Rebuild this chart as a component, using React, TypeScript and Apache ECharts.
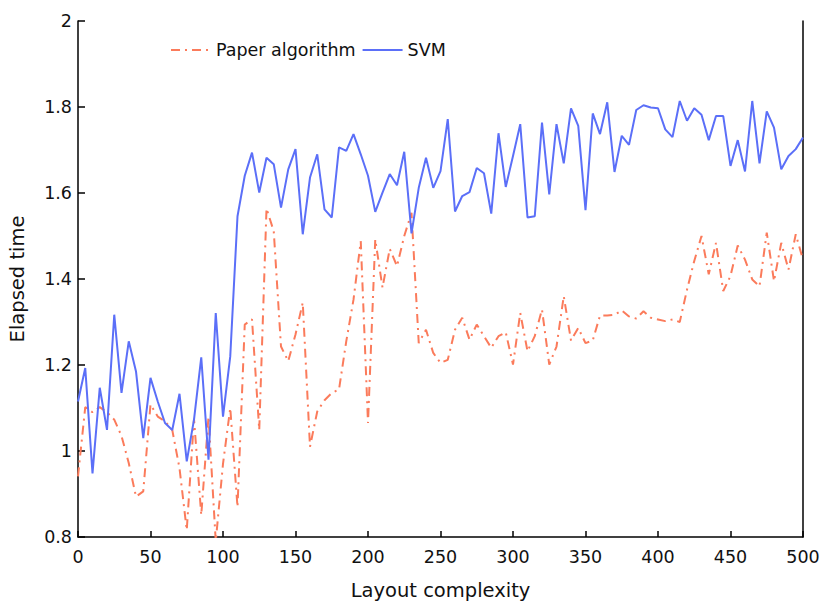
import React, { useEffect, useRef } from "react";
import * as echarts from "echarts";

const complexity: number[] = Array.from({ length: 101 }, (_, i) => i * 5);

const paperAlgorithm: number[] = [
  0.941, 1.102, 1.09, 1.102, 1.09, 1.073, 1.035, 0.972, 0.894, 0.906,
  1.108, 1.08, 1.069, 1.049, 0.96, 0.816, 1.075, 0.851, 1.08, 0.79,
  0.97, 1.1, 0.87, 1.294, 1.306, 1.049, 1.564, 1.511, 1.243, 1.209,
  1.271, 1.345, 1.01, 1.092, 1.118, 1.135, 1.143, 1.255, 1.352, 1.488,
  1.065, 1.492, 1.38, 1.47, 1.43, 1.5, 1.554, 1.251, 1.282, 1.228,
  1.205, 1.212, 1.282, 1.31, 1.259, 1.294, 1.267, 1.24, 1.267, 1.276,
  1.201, 1.321, 1.232, 1.267, 1.329, 1.201, 1.243, 1.36, 1.257, 1.286,
  1.251, 1.257, 1.315, 1.315, 1.317, 1.327, 1.313, 1.308, 1.325, 1.31,
  1.306, 1.302, 1.306, 1.3, 1.375, 1.442, 1.5, 1.411, 1.484, 1.372,
  1.407, 1.478, 1.445, 1.399, 1.383, 1.508, 1.395, 1.484, 1.422, 1.504,
  1.445,
];

const svm: number[] = [
  1.115, 1.193, 0.948, 1.147, 1.049, 1.317, 1.135, 1.255, 1.185, 1.03,
  1.17, 1.115, 1.065, 1.049, 1.133, 0.976, 1.073, 1.218, 0.98, 1.321,
  1.08, 1.22, 1.546, 1.64, 1.694, 1.601, 1.682, 1.667, 1.566, 1.655,
  1.702, 1.504, 1.636, 1.69, 1.562, 1.543, 1.706, 1.698, 1.737, 1.69,
  1.64, 1.556, 1.601, 1.644, 1.618, 1.696, 1.506, 1.612, 1.682, 1.612,
  1.651, 1.772, 1.557, 1.593, 1.602, 1.658, 1.646, 1.552, 1.739, 1.614,
  1.686, 1.76, 1.543, 1.546, 1.764, 1.597, 1.76, 1.669, 1.797, 1.756,
  1.56, 1.785, 1.737, 1.811, 1.649, 1.733, 1.712, 1.793, 1.804, 1.799,
  1.797, 1.748, 1.73, 1.814, 1.768, 1.797, 1.782, 1.723, 1.779, 1.779,
  1.663, 1.723, 1.65, 1.814, 1.669, 1.79, 1.752, 1.655, 1.686, 1.702,
  1.729,
];

const seriesNames = ["Paper algorithm", "SVM"];
const xTitle = "Layout complexity";
const yTitle = "Elapsed time";

const FONT = "DejaVu Sans";

export default function App() {
  const ref = useRef<HTMLDivElement>(null);
  useEffect(() => {
    if (!ref.current) return;
    const chart = echarts.init(ref.current, undefined, { renderer: "svg" });
    const axisLine = { show: true, lineStyle: { color: "#000", width: 1.5 } };
    chart.setOption({
      animation: false,
      backgroundColor: "#fff",
      textStyle: { fontFamily: FONT },
      grid: {
        left: 78,
        right: 19,
        top: 21,
        bottom: 64,
        containLabel: false,
        outerBoundsMode: "none",
      },
      legend: {
        left: 165,
        top: 36,
        itemWidth: 40,
        itemHeight: 14,
        itemGap: 6,
        itemStyle: { opacity: 0 },
        textStyle: { fontFamily: FONT, fontSize: 17.5, color: "#111" },
        data: seriesNames,
      },
      xAxis: {
        type: "value",
        min: 0,
        max: 500,
        interval: 50,
        name: xTitle,
        nameLocation: "middle",
        nameGap: 43,
        nameTextStyle: { fontFamily: FONT, fontSize: 19.5, color: "#111" },
        axisLine,
        axisTick: { show: true, inside: true, length: 6, lineStyle: { color: "#000", width: 1.5 } },
        axisLabel: { fontFamily: FONT, fontSize: 17.5, color: "#111", margin: 11 },
        splitLine: { show: false },
      },
      yAxis: [
        {
          type: "value",
          min: 0.8,
          max: 2,
          interval: 0.2,
          name: yTitle,
          nameLocation: "middle",
          nameGap: 51,
          nameTextStyle: { fontFamily: FONT, fontSize: 19.5, color: "#111" },
          axisLine,
          axisTick: { show: true, inside: true, length: 7, lineStyle: { color: "#000", width: 1.5 } },
          axisLabel: {
            fontFamily: FONT,
            fontSize: 17.5,
            color: "#111",
            margin: 6,
            formatter: (v: number) => String(Math.round(v * 10) / 10),
          },
          splitLine: { show: false },
        },
        {
          type: "value",
          position: "right",
          min: 0.8,
          max: 2,
          interval: 0.2,
          axisLine,
          axisTick: { show: false },
          axisLabel: { show: false },
          splitLine: { show: false },
        },
      ],
      series: [
        {
          name: seriesNames[0],
          type: "line",
          symbol: "none",
          data: complexity.map((x, i) => [x, paperAlgorithm[i]]),
          lineStyle: { color: "#fb7b5b", width: 2, type: [9, 5, 2, 5] },
          itemStyle: { color: "#fb7b5b" },
          clip: true,
        },
        {
          name: seriesNames[1],
          type: "line",
          symbol: "none",
          data: complexity.map((x, i) => [x, svm[i]]),
          lineStyle: { color: "#5b6ff8", width: 2 },
          itemStyle: { color: "#5b6ff8" },
          clip: true,
        },
      ],
    });
    return () => chart.dispose();
  }, []);
  return (
    <div
      ref={ref}
      style={{ position: "fixed", left: 0, top: 0, width: 822, height: 601 }}
    />
  );
}
